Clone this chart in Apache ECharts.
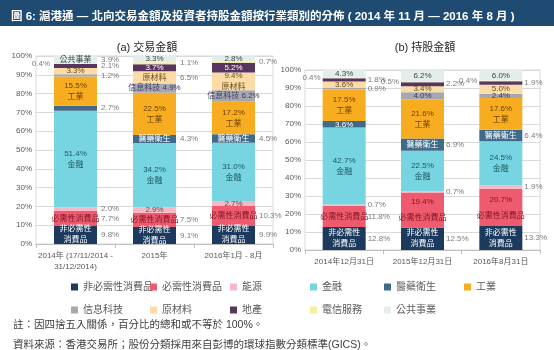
<!DOCTYPE html>
<html>
<head>
<meta charset="utf-8">
<script src="https://cdn.jsdelivr.net/npm/echarts@6/dist/echarts.min.js"></script>
<style>
  html, body { margin: 0; padding: 0; background: #fff; }
  #main { width: 554px; height: 350px; }
</style>
</head>
<body>
<div id="main"></div>
<script>
// 行業類別（由下至上）
var sectors = ['非必需性消費品', '必需性消費品', '能源', '金融', '醫藥衛生', '工業',
               '信息科技', '原材料', '地產', '電信服務', '公共事業'];
var sectorLabels = ['非必需性\n消費品', '必需性消費品', '能源', '金融', '醫藥衛生', '工業',
                    '信息科技', '原材料', '地產', '電信服務', '公共事業'];

var catsA = ['2014年 (17/11/2014 -\n31/12/2014)', '2015年', '2016年1月 - 8月'];
var catsB = ['2014年12月31日', '2015年12月31日', '2016年8月31日'];

// (a) 交易金額 (%)，每行一個行業，三個時期
var tradeVals = [
    [9.8, 9.1, 9.9],
    [7.7, 7.5, 10.3],
    [2.0, 2.9, 2.7],
    [51.4, 34.2, 31.0],
    [2.7, 4.3, 4.5],
    [15.5, 22.5, 17.2],
    [1.2, 4.9, 6.2],
    [3.3, 6.5, 9.4],
    [2.1, 3.7, 5.2],
    [0.4, 1.1, 0.7],
    [3.9, 3.3, 2.8]
];
// (b) 持股金額 (%)
var holdVals = [
    [12.8, 12.5, 13.3],
    [11.8, 19.4, 20.7],
    [0.7, 0.7, 1.9],
    [42.7, 22.5, 24.5],
    [3.6, 6.9, 6.4],
    [17.5, 21.6, 17.6],
    [0.9, 4.0, 2.4],
    [3.6, 3.4, 5.0],
    [1.8, 2.2, 1.9],
    [0.4, 0.5, 0.4],
    [4.3, 6.2, 6.0]
];

// 標籤方式: N=名稱 V=數值 VN=數值+名稱 NV=名稱 數值 ; R/L=柱外右/左
var inA = [['N','N','N'],['N','N','N'],['','V','V'],['VN','VN','VN'],['','N','N'],['VN','VN','VN'],
           ['','NV','NV'],['V','N','VN'],['','V','V'],['','',''],['N','V','V']];
var outA = [['R','R','R'],['R','R','R'],['R','',''],['','',''],['R','R','R'],['','',''],
            ['R','',''],['','R',''],['R','',''],['L','R','R'],['R','','']];
var inB = [['N','N','N'],['N','VN','VN'],['','',''],['VN','VN','VN'],['V','N','N'],['VN','VN','VN'],
           ['','V','V'],['V','V','V'],['','',''],['','',''],['V','V','V']];
var outB = [['R','R','R'],['R','',''],['R','R','R'],['','',''],['','R','R'],['','',''],
            ['R','',''],['','',''],['R','R','R'],['L','L','L'],['','','']];

var colors = ['#1c3a5e', '#ef5b6e', '#f4b8c6', '#76d5e0', '#3e6b8a', '#f8ac1f',
              '#a7a7af', '#fcdca6', '#58345f', '#f6ee9e', '#e3eeea'];
var inColors = ['#ffffff', '#7a1322', '#555555', '#1d5762', '#ffffff', '#6b4300',
                '#3b3b66', '#6b4a1a', '#ffffff', '#555555', '#3a4646'];

var FONT = "'Liberation Sans','Noto Sans CJK TC',sans-serif";
var pct = function (v) { return v.toFixed(1) + '%'; };

function inLabel(mode, i, v) {
    if (!mode) return { show: false };
    var txt = mode === 'N' ? sectorLabels[i]
        : mode === 'V' ? pct(v)
        : mode === 'VN' ? pct(v) + '\n' + sectorLabels[i]
        : sectorLabels[i] + ' ' + pct(v);
    return {
        show: true, position: 'inside', formatter: txt,
        color: inColors[i], fontSize: 8, fontFamily: FONT,
        lineHeight: (mode === 'VN' && i === 1) ? 16 : 11
    };
}

var series = [];
function addChart(vals, inModes, outModes, gi, stack, dist) {
    sectors.forEach(function (name, i) {
        series.push({
            name: name, type: 'bar', stack: stack,
            xAxisIndex: gi, yAxisIndex: gi, barWidth: 43,
            itemStyle: { color: colors[i] },
            data: vals[i].map(function (v, j) {
                return { value: v, label: inLabel(inModes[i][j], i, v) };
            })
        });
    });
    // 柱外數值標籤
    var pts = [];
    for (var j = 0; j < 3; j++) {
        var base = 0;
        for (var i = 0; i < sectors.length; i++) {
            var v = vals[i][j], m = outModes[i][j];
            if (m) {
                pts.push({
                    value: [j, base + v / 2],
                    label: {
                        show: true, position: m === 'R' ? 'right' : 'left', distance: dist,
                        formatter: pct(v), color: '#595959', fontSize: 8, fontFamily: FONT
                    }
                });
            }
            base += v;
        }
    }
    series.push({
        name: 'out' + gi, type: 'scatter', xAxisIndex: gi, yAxisIndex: gi,
        symbolSize: 1, itemStyle: { color: 'transparent' }, silent: true, z: 5,
        data: pts
    });
}
addChart(tradeVals, inA, outA, 0, 'a', 25);
addChart(holdVals, inB, outB, 1, 'b', 23);

function xAx(gi, cats) {
    return {
        type: 'category', gridIndex: gi, data: cats,
        axisLine: { lineStyle: { color: '#bfbfbf' } },
        axisTick: { show: true, length: 4, lineStyle: { color: '#bfbfbf' } },
        axisLabel: { interval: 0, fontSize: 8, color: '#595959', margin: 6, lineHeight: 11, fontFamily: FONT }
    };
}
function yAx(gi) {
    return {
        type: 'value', gridIndex: gi, min: 0, max: 100, interval: 10,
        axisLine: { show: false }, axisTick: { show: false },
        axisLabel: { formatter: '{value}%', fontSize: 8, color: '#595959', margin: 4, fontFamily: FONT },
        splitLine: { lineStyle: { color: '#d9d9d9' } }
    };
}

// 圖例位置
var legCols = [67, 146, 226, 306, 380, 460];
var legRows = [284, 307];
var legends = sectors.map(function (name, i) {
    var r = i < 6 ? 0 : 1, c = i < 6 ? i : i - 6;
    return {
        data: [name], left: legCols[c] - 1, top: legRows[r] - 7,
        icon: 'rect', itemWidth: 7, itemHeight: 7, itemGap: 4,
        textStyle: { fontSize: 10, color: '#595959', fontFamily: FONT },
        selectedMode: false
    };
});

var option = {
    animation: false,
    backgroundColor: '#ffffff',
    graphic: [{
        type: 'rect', left: 0, top: 0, shape: { width: 554, height: 26 },
        style: { fill: '#1f4a72' }, silent: true
    }],
    title: [
        { text: '圖 6: 滬港通 — 北向交易金額及投資者持股金額按行業類別的分佈 ( 2014 年 11 月 — 2016 年 8 月 )',
          left: 6, top: 6, textStyle: { color: '#ffffff', fontSize: 11.5, fontWeight: 'bold', fontFamily: FONT } },
        { text: '(a) 交易金額', left: 142, top: 37, textAlign: 'center',
          textStyle: { color: '#262626', fontSize: 11, fontWeight: 'normal', fontFamily: FONT } },
        { text: '(b) 持股金額', left: 420, top: 37, textAlign: 'center',
          textStyle: { color: '#262626', fontSize: 11, fontWeight: 'normal', fontFamily: FONT } },
        { text: '註：因四捨五入關係，百分比的總和或不等於 100%。', left: 8, top: 315,
          textStyle: { color: '#404040', fontSize: 10.5, fontWeight: 'normal', fontFamily: FONT } },
        { text: '資料來源：香港交易所；股份分類採用來自彭博的環球指數分類標準(GICS)。', left: 8, top: 335,
          textStyle: { color: '#404040', fontSize: 10.5, fontWeight: 'normal', fontFamily: FONT } }
    ],
    legend: legends,
    grid: [
        { left: 36, top: 56, width: 237, height: 188, show: true, borderColor: '#d9d9d9', borderWidth: 1 },
        { left: 305, top: 70, width: 235, height: 180, show: true, borderColor: '#d9d9d9', borderWidth: 1 }
    ],
    xAxis: [xAx(0, catsA), xAx(1, catsB)],
    yAxis: [yAx(0), yAx(1)],
    series: series
};

var myChart = echarts.init(document.getElementById('main'));
myChart.setOption(option);
</script>
</body>
</html>
